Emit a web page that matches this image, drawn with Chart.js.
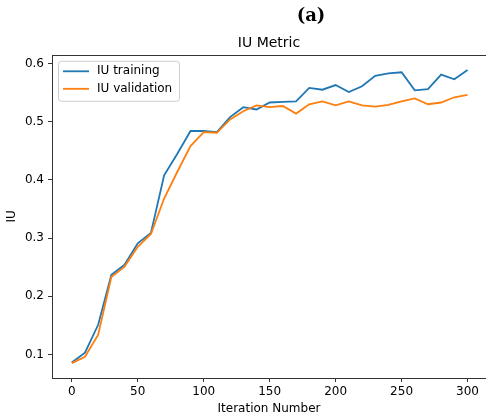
<!DOCTYPE html>
<html>
<head>
<meta charset="utf-8">
<script src="https://cdn.jsdelivr.net/npm/chart.js@4"></script>
<style>
  html, body { margin: 0; padding: 0; background: #fff; }
  canvas { display: block; }
</style>
</head>
<body>
<canvas id="iuChart" width="486" height="419"></canvas>
<script>
const iterations = [0, 10, 20, 30, 40, 50, 60, 70, 80, 90, 100, 110, 120, 130, 140, 150,
                    160, 170, 180, 190, 200, 210, 220, 230, 240, 250, 260, 270, 280, 290, 300];
const iuTraining = [0.086, 0.103, 0.151, 0.237, 0.254, 0.291, 0.309, 0.408, 0.445, 0.484, 0.484,
                    0.482, 0.508, 0.525, 0.521, 0.533, 0.534, 0.535, 0.558, 0.555, 0.563, 0.551,
                    0.561, 0.579, 0.583, 0.585, 0.554, 0.556, 0.581, 0.573, 0.589];
const iuValidation = [0.085, 0.096, 0.134, 0.233, 0.251, 0.285, 0.307, 0.368, 0.414, 0.458, 0.482,
                      0.481, 0.504, 0.518, 0.528, 0.525, 0.527, 0.514, 0.530, 0.535, 0.528, 0.535,
                      0.528, 0.526, 0.529, 0.535, 0.540, 0.530, 0.533, 0.542, 0.546];
const xTicks = [0, 50, 100, 150, 200, 250, 300];
const yTicks = [0.1, 0.2, 0.3, 0.4, 0.5, 0.6];

const BLUE = '#1f77b4';
const ORANGE = '#ff7f0e';
const AXIS = '#333';
const FONT = "'DejaVu Sans', sans-serif";

Chart.defaults.font.family = FONT;
Chart.defaults.color = '#000';

const toPoints = vals => vals.map((v, i) => ({ x: iterations[i], y: v }));

// axes frame, panel tag and the boxed legend in the upper left
const decorations = {
    id: 'decorations',
    afterDraw(chart) {
        const ctx = chart.ctx;
        const a = chart.chartArea;
        ctx.save();
        ctx.strokeStyle = AXIS;
        ctx.lineWidth = 1;
        ctx.strokeRect(Math.round(a.left) + 0.5, Math.round(a.top) + 0.5,
                       Math.round(a.right - a.left), Math.round(a.bottom - a.top));

        ctx.fillStyle = '#000';
        ctx.font = "bold 18px 'DejaVu Serif', serif";
        ctx.textAlign = 'center';
        ctx.textBaseline = 'middle';
        ctx.fillText('(a)', 311, 16);

        const lx = a.left + 6, ly = a.top + 6, lw = 121, lh = 40;
        ctx.beginPath();
        ctx.roundRect(lx + 0.5, ly + 0.5, lw, lh, 3);
        ctx.fillStyle = 'rgba(255,255,255,0.8)';
        ctx.fill();
        ctx.strokeStyle = '#cccccc';
        ctx.stroke();

        const items = [['IU training', BLUE], ['IU validation', ORANGE]];
        ctx.font = '12px ' + FONT;
        ctx.textAlign = 'left';
        items.forEach(([label, color], i) => {
            const y = ly + 10.5 + i * 17.5;
            ctx.beginPath();
            ctx.moveTo(lx + 5, y);
            ctx.lineTo(lx + 31, y);
            ctx.strokeStyle = color;
            ctx.lineWidth = 1.8;
            ctx.stroke();
            ctx.fillStyle = '#000';
            ctx.fillText(label, lx + 39, y);
        });
        ctx.restore();
    }
};

new Chart(document.getElementById('iuChart'), {
    type: 'line',
    data: {
        datasets: [
            { label: 'IU training', data: toPoints(iuTraining), borderColor: BLUE, borderWidth: 1.8, pointRadius: 0, tension: 0, order: 1 },
            { label: 'IU validation', data: toPoints(iuValidation), borderColor: ORANGE, borderWidth: 1.8, pointRadius: 0, tension: 0, order: 0 }
        ]
    },
    options: {
        responsive: false,
        animation: false,
        layout: { padding: { top: 35, right: 0, left: 0, bottom: 0 } },
        plugins: {
            legend: { display: false },
            tooltip: { enabled: false },
            title: {
                display: true, text: 'IU Metric', fullSize: false, color: '#000',
                font: { size: 14, weight: 'normal' }, padding: { top: 0, bottom: 3 }
            }
        },
        scales: {
            x: {
                type: 'linear', min: -15, max: 314,
                afterBuildTicks: s => { s.ticks = xTicks.map(v => ({ value: v })); },
                afterFit: s => { s.height = 41; },
                ticks: { font: { size: 12 }, padding: 3, maxRotation: 0, callback: v => String(v) },
                grid: { display: true, drawOnChartArea: false, drawTicks: true, tickLength: 4, tickColor: AXIS, tickWidth: 1 },
                border: { display: false },
                title: { display: true, text: 'Iteration Number', font: { size: 12 }, padding: { top: 0, bottom: 3 } }
            },
            y: {
                min: 0.0595, max: 0.615,
                afterBuildTicks: s => { s.ticks = yTicks.map(v => ({ value: v })); },
                afterFit: s => { s.width = 52; },
                ticks: { font: { size: 12 }, padding: 4, callback: v => v.toFixed(1) },
                grid: { display: true, drawOnChartArea: false, drawTicks: true, tickLength: 4, tickColor: AXIS, tickWidth: 1 },
                border: { display: false },
                title: { display: true, text: 'IU', font: { size: 12 }, padding: { top: 5, bottom: 0 } }
            }
        }
    },
    plugins: [decorations]
});
</script>
</body>
</html>
